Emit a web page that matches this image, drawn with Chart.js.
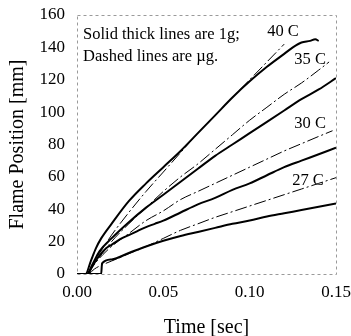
<!DOCTYPE html>
<html>
<head>
<meta charset="utf-8">
<script src="https://cdn.jsdelivr.net/npm/chart.js@4"></script>
<style>
  html, body { margin: 0; padding: 0; background: #fff; }
  #chart { display: block; }
</style>
</head>
<body>
<canvas id="chart" width="351" height="336"></canvas>
<script>
// tick labels
const xTicks = [0, 0.05, 0.10, 0.15];
const yTicks = [0, 20, 40, 60, 80, 100, 120, 140, 160];

// 40 C
const time40g = [0, 0.005, 0.008, 0.011, 0.014, 0.02, 0.03, 0.04, 0.05, 0.06, 0.07, 0.08, 0.09, 0.10, 0.11, 0.12, 0.125, 0.13, 0.135, 0.138, 0.14];
const pos40g  = [0, 0, 8, 16, 22, 31, 45, 56, 66, 76, 87, 98, 109, 119, 128, 136, 140, 143, 144, 145, 144];
const time40ug = [0.006, 0.01, 0.015, 0.02, 0.03, 0.04, 0.05, 0.06, 0.07, 0.08, 0.09, 0.10, 0.11, 0.12];
const pos40ug  = [0, 8, 16, 24, 38, 51, 63, 75, 87, 98, 109, 120, 131, 142];

// 35 C
const time35g = [0, 0.006, 0.009, 0.013, 0.02, 0.03, 0.04, 0.05, 0.06, 0.07, 0.08, 0.09, 0.10, 0.11, 0.12, 0.13, 0.14, 0.15];
const pos35g  = [0, 0, 6, 14, 22, 32, 41, 49, 57, 65, 73, 80, 87, 94, 101, 108, 114, 121];
const time35ug = [0.006, 0.01, 0.02, 0.03, 0.04, 0.05, 0.06, 0.07, 0.08, 0.09, 0.10, 0.11, 0.12, 0.13, 0.14, 0.146];
const pos35ug  = [0, 6, 20, 31, 41, 51, 60, 68, 77, 86, 95, 103, 111, 118, 126, 131];

// 30 C
const time30g = [0, 0.006, 0.009, 0.012, 0.017, 0.02, 0.025, 0.03, 0.035, 0.04, 0.045, 0.05, 0.06, 0.07, 0.08, 0.09, 0.10, 0.11, 0.12, 0.13, 0.14, 0.15];
const pos30g  = [0, 0, 5, 10, 16, 18, 21.5, 24, 26.5, 29, 31, 33, 38, 43, 47, 52, 56, 61, 66, 70, 74, 78];
const time30ug = [0.006, 0.01, 0.015, 0.02, 0.03, 0.04, 0.05, 0.06, 0.07, 0.08, 0.09, 0.10, 0.11, 0.12, 0.13, 0.14, 0.148];
const pos30ug  = [0, 6, 12, 17, 25, 33, 39, 46, 51, 56, 61, 66, 71, 76, 80.5, 85, 88.5];

// 27 C
const time27g = [0, 0.014, 0.0145, 0.02, 0.03, 0.04, 0.05, 0.06, 0.07, 0.08, 0.09, 0.10, 0.11, 0.12, 0.13, 0.14, 0.15];
const pos27g  = [0, 0, 6.5, 9, 13, 17, 20.5, 23.5, 26, 28.5, 31, 33, 35.5, 37.5, 39.5, 41.5, 43.5];
const time27ug = [0.007, 0.01, 0.02, 0.03, 0.04, 0.05, 0.06, 0.07, 0.08, 0.09, 0.10, 0.11, 0.12, 0.13, 0.14, 0.15];
const pos27ug  = [0, 3, 8, 12.5, 17, 22, 27, 31, 35, 38.5, 42, 45.5, 49, 52.5, 56, 59.5];

// labels on the plot
const tempLabels = ['40 C', '35 C', '30 C', '27 C'];
const tempLabelX = [0.1193, 0.135, 0.135, 0.1338];
const tempLabelY = [150, 132.7, 92.6, 57.4];
const noteLines = ['Solid thick lines are 1g;', 'Dashed lines are \u00b5g.'];
const noteX = 0.0035;
const noteY = [148, 134];

const SERIF = '"Liberation Serif", "Times New Roman", serif';

function pts(t, v) {
    return t.map((x, i) => ({ x: x, y: v[i] }));
}

function solid(t, v) {
    return { data: pts(t, v), borderColor: '#000', borderWidth: 2, pointRadius: 0, cubicInterpolationMode: 'monotone' };
}

function dashed(t, v) {
    return { data: pts(t, v), borderColor: '#000', borderWidth: 1, borderDash: [12, 3, 2, 3], pointRadius: 0, cubicInterpolationMode: 'monotone' };
}

// dashed frame round the plot area
const framePlugin = {
    id: 'frame',
    beforeDatasetsDraw(chart) {
        const a = chart.chartArea;
        const ctx = chart.ctx;
        ctx.save();
        ctx.strokeStyle = '#9a9a9a';
        ctx.lineWidth = 1;
        ctx.setLineDash([3, 3]);
        ctx.strokeRect(a.left + 0.5, a.top + 0.5, a.right - a.left, a.bottom - a.top);
        ctx.restore();
    }
};

// temperature labels and the note
const textPlugin = {
    id: 'texts',
    afterDatasetsDraw(chart) {
        const ctx = chart.ctx;
        const xs = chart.scales.x;
        const ys = chart.scales.y;
        ctx.save();
        ctx.fillStyle = '#000';
        ctx.font = '16.5px ' + SERIF;
        ctx.textBaseline = 'middle';
        ctx.textAlign = 'center';
        tempLabels.forEach((txt, i) => {
            ctx.fillText(txt, xs.getPixelForValue(tempLabelX[i]), ys.getPixelForValue(tempLabelY[i]));
        });
        ctx.textAlign = 'left';
        noteLines.forEach((txt, i) => {
            ctx.fillText(txt, xs.getPixelForValue(noteX), ys.getPixelForValue(noteY[i]));
        });
        ctx.restore();
    }
};

new Chart(document.getElementById('chart'), {
    type: 'line',
    data: {
        datasets: [
            solid(time40g, pos40g), dashed(time40ug, pos40ug),
            solid(time35g, pos35g), dashed(time35ug, pos35ug),
            solid(time30g, pos30g), dashed(time30ug, pos30ug),
            solid(time27g, pos27g), dashed(time27ug, pos27ug)
        ]
    },
    options: {
        responsive: false,
        animation: false,
        layout: { padding: { top: 15, right: 15, left: 0, bottom: 0 } },
        plugins: { legend: { display: false }, tooltip: { enabled: false } },
        scales: {
            x: {
                type: 'linear',
                min: 0,
                max: 0.15,
                afterBuildTicks: (s) => { s.ticks = xTicks.map(v => ({ value: v })); },
                afterFit: (s) => { s.height = 62; s.paddingLeft = 0; s.paddingRight = 0; },
                grid: { display: false, drawTicks: false },
                border: { display: false },
                ticks: {
                    padding: 8,
                    color: '#000',
                    font: { family: SERIF, size: 17 },
                    callback: (v) => Number(v).toFixed(2)
                },
                title: {
                    display: true,
                    text: 'Time [sec]',
                    color: '#000',
                    font: { family: SERIF, size: 20, lineHeight: 0.8 },
                    padding: 0
                }
            },
            y: {
                min: 0,
                max: 160,
                afterBuildTicks: (s) => { s.ticks = yTicks.map(v => ({ value: v })); },
                afterFit: (s) => { s.width = 77; s.paddingTop = 0; s.paddingBottom = 0; },
                grid: { display: false, drawTicks: false },
                border: { display: false },
                ticks: {
                    padding: 12,
                    color: '#000',
                    font: { family: SERIF, size: 17 }
                },
                title: {
                    display: true,
                    text: 'Flame Position [mm]',
                    color: '#000',
                    font: { family: SERIF, size: 20 },
                    padding: { top: 6, bottom: 0 }
                }
            }
        }
    },
    plugins: [framePlugin, textPlugin]
});
</script>
</body>
</html>
